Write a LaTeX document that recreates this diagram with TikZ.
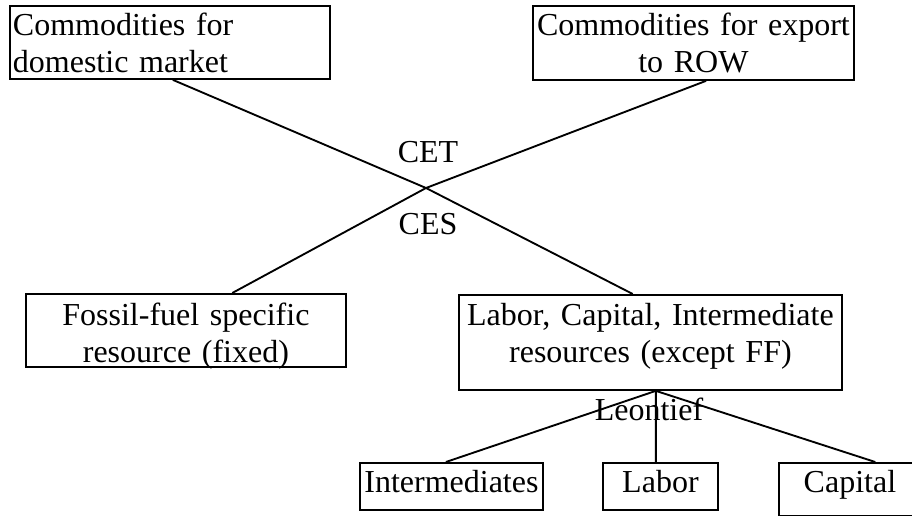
\documentclass[tikz,border=0pt]{standalone}
\usepackage{fontspec}
\setmainfont{Liberation Serif}
\usetikzlibrary{positioning, calc}
\tikzset{
    box/.style={ % framed text boxes, placed by their top left corner
        draw,
        line width=1.4pt,
        anchor=north west,
        inner xsep=2.25pt,
        inner ysep=0pt
    },
    link/.style={ % plain connectors, no tips
        line width=1.4pt
    },
}

\begin{document}
\begin{tikzpicture}[x=0.75pt, y=-0.75pt,
                font=\fontsize{24pt}{27.75pt}\selectfont
            ]
            \useasboundingbox (0,0) rectangle (912,516);
            \node[box, align=left,   text width=235.5pt,  text height=22.5pt,  text depth=32.25pt] (dom)   at (9,5)     {Commodities for\\domestic market};
            \node[box, align=center, text width=236.25pt, text height=22.5pt,  text depth=33pt]    (exp)   at (532,5)   {Commodities for export\\to ROW};
            \node[box, align=center, text width=235.5pt,  text height=24pt,    text depth=30.75pt] (foss)  at (25,293)  {Fossil-fuel specific\\resource (fixed)};
            \node[box, align=center, text width=282.75pt, text height=23.25pt, text depth=48pt]    (lci)   at (458,294) {Labor, Capital, Intermediate\\resources (except FF)};
            \node[box, minimum width=137.25pt, text height=22.5pt, text depth=12.75pt]             (inter) at (359,462) {Intermediates};
            \node[box, minimum width=86.25pt,  text height=22.5pt, text depth=12.75pt]             (lab)   at (602,462) {Labor};
            \node[box, minimum width=106.5pt,  text height=22.5pt, text depth=17.25pt]             (cap)   at (778,462) {Capital};

            % CET / CES meeting point
            \coordinate (hub) at (426,188);
            \draw[link] ($(dom.south west)!0.509!(dom.south east)$)   -- (hub);
            \draw[link] ($(exp.south west)!0.539!(exp.south east)$)   -- (hub);
            \draw[link] ($(foss.north west)!0.644!(foss.north east)$) -- (hub);
            \draw[link] ($(lci.north west)!0.454!(lci.north east)$)   -- (hub);

            \coordinate (leo) at ($(lci.south west)!0.514!(lci.south east)$);
            \draw[link] (leo) -- ($(inter.north west)!0.47!(inter.north east)$);
            \draw[link] (leo) -- ($(lab.north west)!0.461!(lab.north east)$);
            \draw[link] (leo) -- ($(cap.north west)!0.676!(cap.north east)$);

            \node[anchor=base] (cet)  at (428,163) {CET};
            \node[anchor=base] (ces)  at (428,235) {CES};
            \node[anchor=base] (leon) at (649,420) {Leontief};
        \end{tikzpicture}
\end{document}
